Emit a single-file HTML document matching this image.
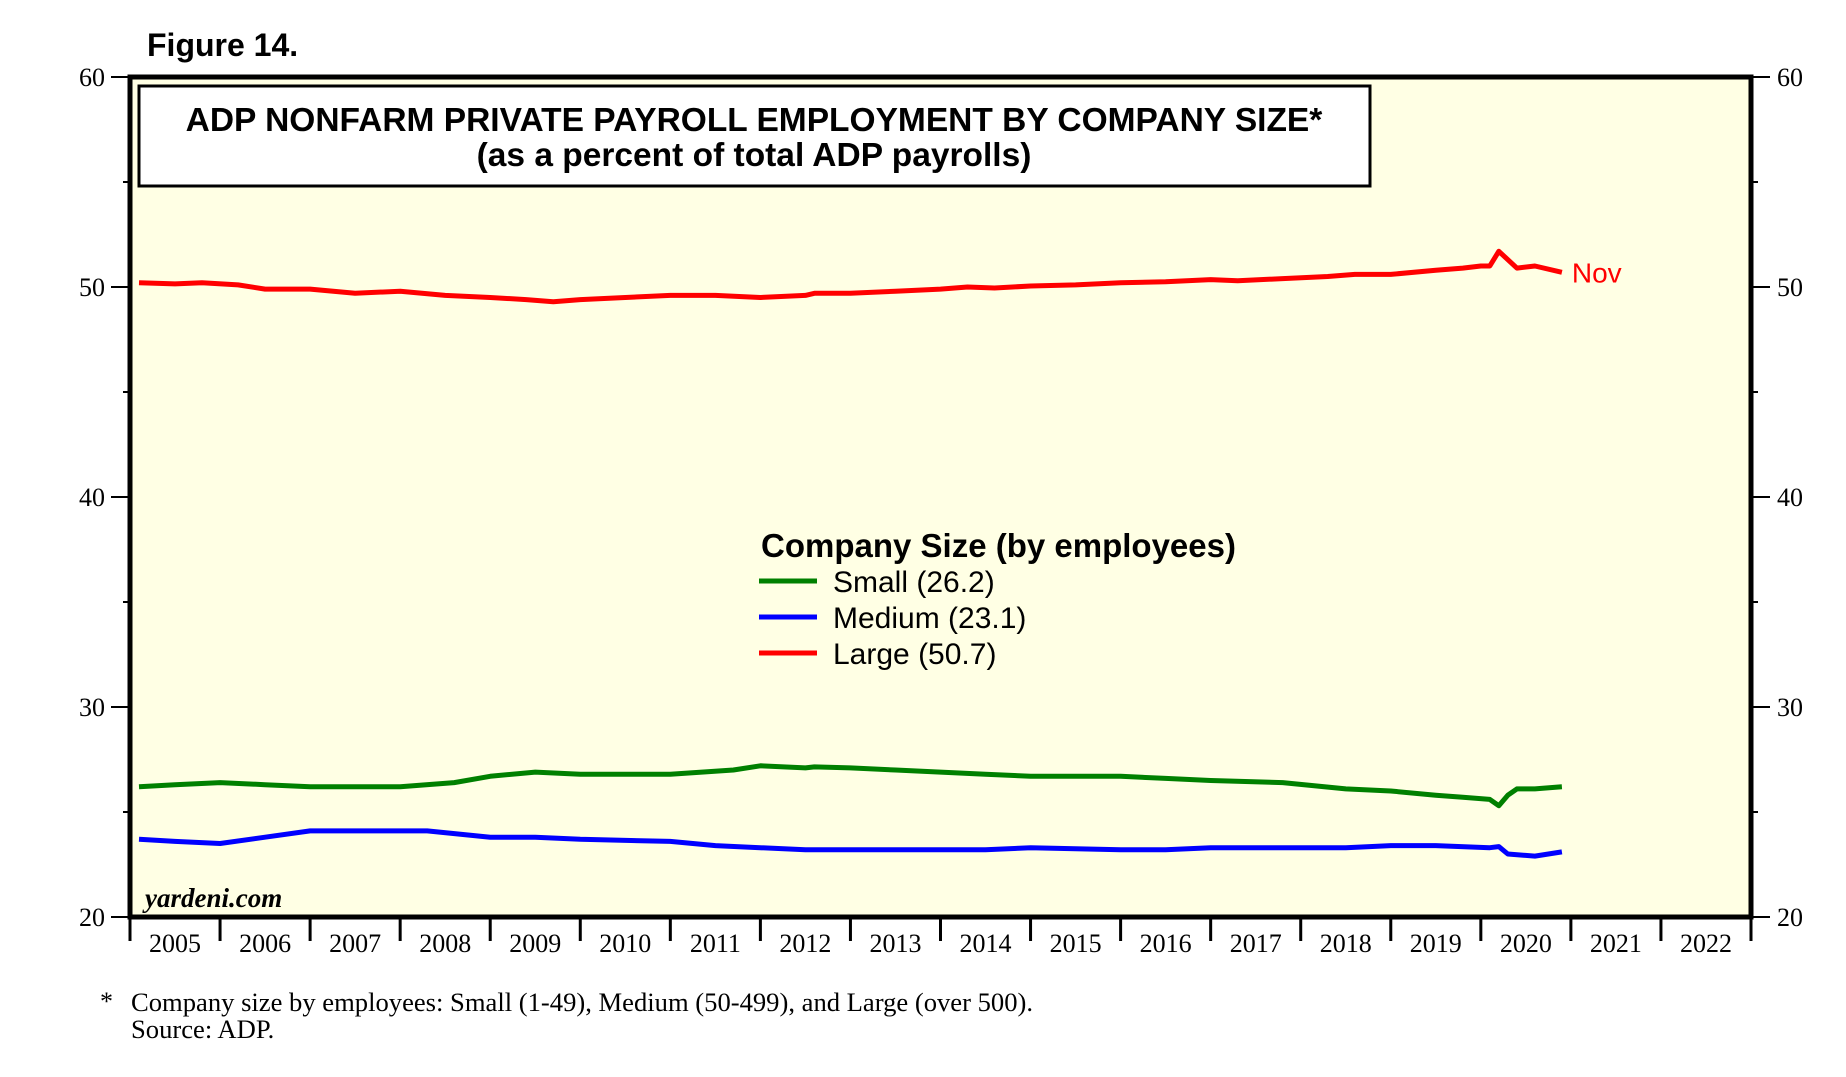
<!DOCTYPE html>
<html><head><meta charset="utf-8"><style>
body{margin:0;background:#fff;}
svg{display:block;}
</style></head><body>
<svg id="chart" width="1846" height="1077" xmlns="http://www.w3.org/2000/svg">
<text x="147" y="56" font-family="Liberation Sans, sans-serif" font-size="32" font-weight="bold">Figure 14.</text>
<rect x="130" y="77" width="1621" height="840" fill="#FFFFE4" stroke="#000" stroke-width="5"/>
<g id="axes"></g>
<g id="series"></g>
<rect x="139" y="86" width="1231" height="100" fill="#fff" stroke="#000" stroke-width="3"/>
<text x="754" y="131" text-anchor="middle" font-family="Liberation Sans, sans-serif" font-size="33.5" font-weight="bold">ADP NONFARM PRIVATE PAYROLL EMPLOYMENT BY COMPANY SIZE*</text>
<text x="754" y="166" text-anchor="middle" font-family="Liberation Sans, sans-serif" font-size="33.5" font-weight="bold">(as a percent of total ADP payrolls)</text>
<text x="761" y="557" font-family="Liberation Sans, sans-serif" font-size="33" font-weight="bold">Company Size (by employees)</text>
<g><line x1="759" y1="581" x2="817" y2="581" stroke="#008000" stroke-width="5"/><text x="833" y="592" font-family="Liberation Sans, sans-serif" font-size="30">Small (26.2)</text></g>
<g><line x1="759" y1="617" x2="817" y2="617" stroke="#0000ff" stroke-width="5"/><text x="833" y="628" font-family="Liberation Sans, sans-serif" font-size="30">Medium (23.1)</text></g>
<g><line x1="759" y1="653" x2="817" y2="653" stroke="#ff0000" stroke-width="5"/><text x="833" y="664" font-family="Liberation Sans, sans-serif" font-size="30">Large (50.7)</text></g>
<text x="145" y="907" font-family="Liberation Serif, serif" font-size="27" font-weight="bold" font-style="italic">yardeni.com</text>
<text x="100" y="1010" font-family="Liberation Serif, serif" font-size="26">*</text>
<text x="131" y="1011" font-family="Liberation Serif, serif" font-size="26.6">Company size by employees: Small (1-49), Medium (50-499), and Large (over 500).</text>
<text x="131" y="1038" font-family="Liberation Serif, serif" font-size="26.6">Source: ADP.</text>
</svg>
<script>
const yearLabels = [2005,2006,2007,2008,2009,2010,2011,2012,2013,2014,2015,2016,2017,2018,2019,2020,2021,2022];
const yTicks = [20,30,40,50,60];
const smallT = [2005.1,2005.5,2006,2006.5,2007,2008,2008.6,2009,2009.5,2010,2010.5,2011,2011.7,2012,2012.5,2012.6,2013,2013.5,2014,2014.5,2015,2016,2016.5,2017,2017.8,2018.5,2019,2019.5,2019.8,2020.1,2020.2,2020.3,2020.4,2020.6,2020.9];
const smallV = [26.2,26.3,26.4,26.3,26.2,26.2,26.4,26.7,26.9,26.8,26.8,26.8,27.0,27.2,27.1,27.15,27.1,27.0,26.9,26.8,26.7,26.7,26.6,26.5,26.4,26.1,26.0,25.8,25.7,25.6,25.3,25.8,26.1,26.1,26.2];
const medT = [2005.1,2005.5,2006,2006.5,2007,2008,2008.3,2009,2009.5,2010,2011,2011.5,2012,2012.5,2013,2013.5,2014.5,2015,2016,2016.5,2017,2018,2018.5,2019,2019.5,2020.1,2020.2,2020.3,2020.6,2020.9];
const medV = [23.7,23.6,23.5,23.8,24.1,24.1,24.1,23.8,23.8,23.7,23.6,23.4,23.3,23.2,23.2,23.2,23.2,23.3,23.2,23.2,23.3,23.3,23.3,23.4,23.4,23.3,23.35,23.0,22.9,23.1];
const largeT = [2005.1,2005.5,2005.8,2006.2,2006.5,2007,2007.5,2008,2008.5,2009,2009.4,2009.7,2010,2010.5,2011,2011.5,2012,2012.5,2012.6,2013,2013.5,2014,2014.3,2014.6,2015,2015.5,2016,2016.5,2017,2017.3,2017.8,2018.3,2018.6,2018.8,2019,2019.5,2019.8,2020.0,2020.1,2020.2,2020.4,2020.6,2020.9];
const largeV = [50.2,50.15,50.2,50.1,49.9,49.9,49.7,49.8,49.6,49.5,49.4,49.3,49.4,49.5,49.6,49.6,49.5,49.6,49.7,49.7,49.8,49.9,50.0,49.95,50.05,50.1,50.2,50.25,50.35,50.3,50.4,50.5,50.6,50.6,50.6,50.8,50.9,51.0,51.0,51.7,50.9,51.0,50.7];
const X0=130,X1=1751,Y0=917,Y1=77;
const xs = t => X0 + (t-2005)*(X1-X0)/18;
const ys = v => Y0 - (v-20)*(Y0-Y1)/40;
const NS='http://www.w3.org/2000/svg';
const axes=document.getElementById('axes'), series=document.getElementById('series');
function mk(tag,attrs,parent){const e=document.createElementNS(NS,tag);for(const k in attrs)e.setAttribute(k,attrs[k]);parent.appendChild(e);return e;}
for(let i=0;i<=yearLabels.length;i++){
  const t=mk('line',{x1:xs(2005+i),y1:Y0,x2:xs(2005+i),y2:Y0+24,stroke:'#000','stroke-width':3},axes);
  
  
}
yearLabels.forEach(y=>{
  const t=mk('text',{x:xs(y+0.5),y:Y0+35,'text-anchor':'middle','font-family':'Liberation Serif, serif','font-size':26},axes);
  t.textContent=y;
  
  
});
for(let v=20;v<=60;v+=5){
  const major=v%10===0, L=major?19:7;
  const a=mk('line',{x1:X0-L,y1:ys(v),x2:X0,y2:ys(v),stroke:'#000','stroke-width':2},axes);
  
  
  const b=mk('line',{x1:X1,y1:ys(v),x2:X1+L,y2:ys(v),stroke:'#000','stroke-width':2},axes);
  
  
}
yTicks.forEach(v=>{
  const l=mk('text',{x:105,y:ys(v)+9,'text-anchor':'end','font-family':'Liberation Serif, serif','font-size':26},axes);
  l.textContent=v;
  
  
  const r=mk('text',{x:1777,y:ys(v)+9,'font-family':'Liberation Serif, serif','font-size':26},axes);
  r.textContent=v;
  
  
});
function line(T,V,color,name){
  const d=T.map((t,i)=>(i?'L':'M')+xs(t).toFixed(1)+','+ys(V[i]).toFixed(1)).join(' ');
  const p=mk('path',{d:d,fill:'none',stroke:color,'stroke-width':5,'stroke-linejoin':'round'},series);
  
  
}
line(smallT,smallV,'#008000','small-series-line');
line(medT,medV,'#0000ff','medium-series-line');
line(largeT,largeV,'#ff0000','large-series-line');
const nov=mk('text',{x:xs(largeT[largeT.length-1])+10,y:ys(largeV[largeV.length-1])+10,fill:'#ff0000','font-family':'Liberation Sans, sans-serif','font-size':28},series);
nov.textContent='Nov';


</script>
</body></html>
